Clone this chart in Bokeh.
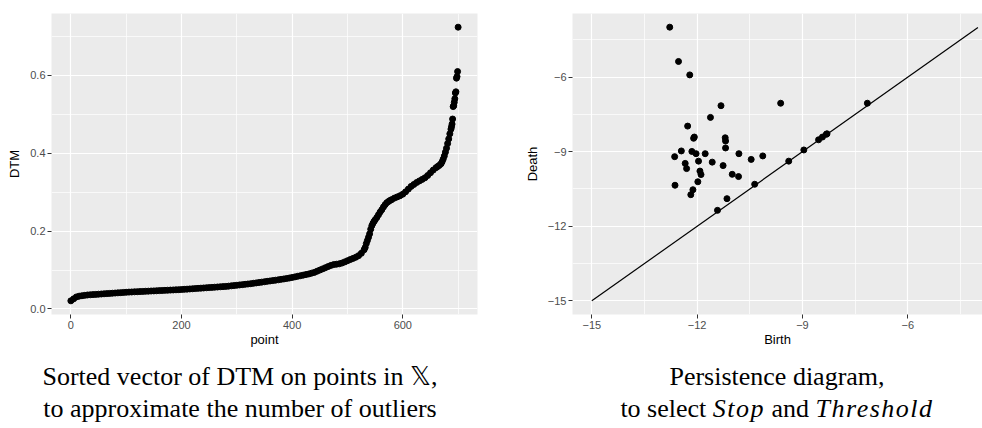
from bokeh.plotting import figure
from bokeh.models import FixedTicker, Range1d, Div, NumeralTickFormatter
from bokeh.layouts import row, column
from bokeh.embed import file_html
from bokeh.resources import INLINE

# ---------------- data ----------------
dtm_index = [0, 5, 10, 15, 20, 25, 30, 35, 40, 45, 50, 55, 60, 65, 70, 75, 80, 85, 90, 95,
             100, 105, 110, 115, 120, 125, 130, 135, 140, 145, 150, 155, 160, 165, 170, 175, 180, 185, 190, 195,
             200, 205, 210, 215, 220, 225, 230, 235, 240, 245, 250, 255, 260, 265, 270, 275, 280, 285, 290, 295,
             300, 305, 310, 315, 320, 325, 330, 335, 340, 345, 350, 355, 360, 365, 370, 375, 380, 385, 390, 395,
             400, 405, 410, 415, 420, 425, 430, 435, 440, 445, 450, 455, 460, 465, 470, 475, 480, 485, 490, 495,
             500, 505, 510, 515, 520, 525, 530, 532, 534, 536, 538, 540, 542, 544, 546, 548, 550, 553, 556, 559,
             562, 565, 568, 571, 574, 577, 580, 585, 590, 595, 600, 605, 610, 615, 620, 625, 630, 635, 640, 645,
             650, 655, 660, 663, 666, 669, 671, 673, 675, 677, 679, 681, 683, 685, 687, 688, 689, 690, 691, 692,
             693, 694, 695, 696, 697, 698, 699, 700]
dtm_values = [0.021, 0.026, 0.031, 0.033, 0.034, 0.035, 0.036, 0.0365, 0.037, 0.0375, 0.038, 0.0385, 0.039, 0.0395, 0.040, 0.0405, 0.041, 0.0415, 0.042, 0.0425,
              0.043, 0.0434, 0.0437, 0.0441, 0.0444, 0.0448, 0.0451, 0.0455, 0.0458, 0.0462, 0.0465, 0.0468, 0.0472, 0.0475, 0.0479, 0.0482, 0.0486, 0.0489, 0.0493, 0.0496,
              0.050, 0.0505, 0.051, 0.0515, 0.052, 0.0525, 0.053, 0.0535, 0.054, 0.0545, 0.055, 0.0555, 0.056, 0.0565, 0.057, 0.0575, 0.058, 0.0587, 0.0595, 0.0602,
              0.061, 0.0618, 0.0626, 0.0634, 0.0642, 0.065, 0.066, 0.067, 0.068, 0.069, 0.070, 0.071, 0.072, 0.073, 0.074, 0.075, 0.0761, 0.0772, 0.0784, 0.0796,
              0.081, 0.0825, 0.084, 0.0855, 0.087, 0.0885, 0.090, 0.092, 0.094, 0.097, 0.100, 0.103, 0.106, 0.109, 0.112, 0.114, 0.115, 0.116, 0.118, 0.121,
              0.124, 0.127, 0.130, 0.133, 0.137, 0.143, 0.152, 0.158, 0.168, 0.176, 0.184, 0.193, 0.205, 0.214, 0.220, 0.225, 0.229, 0.235, 0.242, 0.249,
              0.255, 0.262, 0.268, 0.273, 0.276, 0.279, 0.281, 0.285, 0.288, 0.291, 0.295, 0.301, 0.308, 0.315, 0.320, 0.325, 0.329, 0.333, 0.337, 0.343,
              0.350, 0.357, 0.363, 0.366, 0.369, 0.373, 0.378, 0.385, 0.393, 0.403, 0.413, 0.425, 0.437, 0.450, 0.462, 0.468, 0.475, 0.488, 0.520, 0.522,
              0.531, 0.540, 0.555, 0.558, 0.593, 0.597, 0.610, 0.724]

birth = [-12.78, -12.53, -12.21, -11.32, -9.62, -7.15, -11.62, -12.27, -12.10, -12.08,
         -11.20, -11.19, -11.19, -12.45, -12.15, -12.03, -11.77, -10.81, -10.13, -10.46,
         -12.64, -11.96, -11.57, -12.34, -11.26, -12.30, -11.92, -11.89, -11.00, -10.82,
         -11.98, -12.63, -10.36, -12.12, -12.18, -11.15, -11.42, -9.39, -8.96, -8.54,
         -8.43, -8.32, -8.30]
death = [-3.99, -5.37, -5.91, -7.15, -7.05, -7.05, -7.62, -7.97, -8.46, -8.41,
         -8.44, -8.57, -8.85, -8.97, -8.99, -9.08, -9.08, -9.08, -9.17, -9.31,
         -9.20, -9.38, -9.42, -9.47, -9.56, -9.68, -9.78, -9.92, -9.91, -10.00,
         -10.21, -10.35, -10.31, -10.53, -10.73, -10.89, -11.36, -9.38, -8.93, -8.52,
         -8.41, -8.30, -8.28]
diag_start = -15.0
diag_end = -4.0

dtm_xticks = [0, 200, 400, 600]
dtm_xminor = [100, 300, 500, 700]
dtm_yticks = [0.0, 0.2, 0.4, 0.6]
dtm_yminor = [0.1, 0.3, 0.5, 0.7]
pd_ticks = [-15, -12, -9, -6]
pd_minor = [-13.5, -10.5, -7.5, -4.5]

TICK_FONT = "Liberation Sans"


def style(p):
    p.background_fill_color = "#EBEBEB"
    p.border_fill_color = "white"
    p.outline_line_color = None
    for ax in p.axis:
        ax.axis_line_color = None
        ax.major_tick_line_color = "#333333"
        ax.major_tick_out = 4
        ax.major_tick_in = 0
        ax.minor_tick_line_color = None
        ax.major_label_text_font = TICK_FONT
        ax.major_label_text_font_size = "11px"
        ax.major_label_text_color = "#4D4D4D"
        ax.major_label_standoff = 2
        ax.axis_label_text_font = TICK_FONT
        ax.axis_label_text_font_size = "13px"
        ax.axis_label_text_font_style = "normal"
        ax.axis_label_text_color = "black"
    for g in p.grid:
        g.grid_line_color = "white"
        g.grid_line_width = 1.2
        g.minor_grid_line_color = "white"
        g.minor_grid_line_width = 0.7


def expand(vmin, vmax, f=0.05):
    d = vmax - vmin
    return vmin - f * d, vmax + f * d


# ---------------- left panel ----------------
xs0, xs1 = expand(min(dtm_index), max(dtm_index))
ys0, ys1 = expand(min(dtm_values), max(dtm_values))
p1 = figure(frame_width=426, frame_height=301, output_backend="svg", toolbar_location=None,
            x_range=Range1d(xs0, xs1), y_range=Range1d(ys0, ys1),
            min_border_left=51, min_border_right=13, min_border_top=13, min_border_bottom=36)
p1.scatter(dtm_index, dtm_values, size=6, color="black")
p1.xaxis.axis_label = "point"
p1.yaxis.axis_label = "DTM"
t = FixedTicker(ticks=dtm_xticks, minor_ticks=dtm_xminor)
p1.xaxis.ticker = t
p1.xgrid.ticker = t
t = FixedTicker(ticks=dtm_yticks, minor_ticks=dtm_yminor)
p1.yaxis.ticker = t
p1.ygrid.ticker = t
p1.yaxis.formatter = NumeralTickFormatter(format="0.0")
style(p1)
p1.xaxis.axis_label_standoff = 0
p1.yaxis.axis_label_standoff = 5

# ---------------- right panel ----------------
allv = birth + death + [diag_start, diag_end]
r0, r1 = expand(min(allv), max(allv))
p2 = figure(frame_width=410, frame_height=301, output_backend="svg", toolbar_location=None,
            x_range=Range1d(r0, -3.87), y_range=Range1d(r0, r1),
            min_border_left=82, min_border_right=0, min_border_top=13, min_border_bottom=36)
p2.line([diag_start, diag_end], [diag_start, diag_end], line_color="black", line_width=1.2)
p2.scatter(birth, death, size=6, color="black")
p2.xaxis.axis_label = "Birth"
p2.yaxis.axis_label = "Death"
overrides = {v: str(v).replace("-", "\u2212") for v in pd_ticks}
t = FixedTicker(ticks=pd_ticks, minor_ticks=pd_minor)
p2.xaxis.ticker = t
p2.xgrid.ticker = t
t = FixedTicker(ticks=pd_ticks, minor_ticks=pd_minor)
p2.yaxis.ticker = t
p2.ygrid.ticker = t
p2.xaxis.major_label_overrides = overrides
p2.yaxis.major_label_overrides = overrides
style(p2)
p2.xaxis.axis_label_standoff = 0
p2.yaxis.axis_label_standoff = 5

# ---------------- captions ----------------
cap_style = ("box-sizing:border-box; text-align:center; font-family:'Liberation Serif', serif; "
             "font-size:26px; line-height:32px; color:black; white-space:nowrap;")
ital = "font-family:'Liberation Serif', 'DejaVu Serif', serif; font-style:italic; letter-spacing:1.5px"
div1 = Div(width=490, height=76,
           text=f"<div style=\"{cap_style} width:490px; padding-right:20px; padding-top:6px;\">"
                "Sorted vector of DTM on points in \U0001D54F,<br>to approximate the number of outliers</div>")
div2 = Div(width=492, height=76,
           text=f"<div style=\"{cap_style} width:492px; padding-left:52px; padding-top:6px;\">"
                f"Persistence diagram,<br>to select <span style=\"{ital}\">Stop</span> and "
                f"<span style=\"{ital}\">Threshold</span></div>")

layout = column(row(p1, p2), row(div1, div2))
open("out.html", "w").write(file_html(layout, INLINE))
